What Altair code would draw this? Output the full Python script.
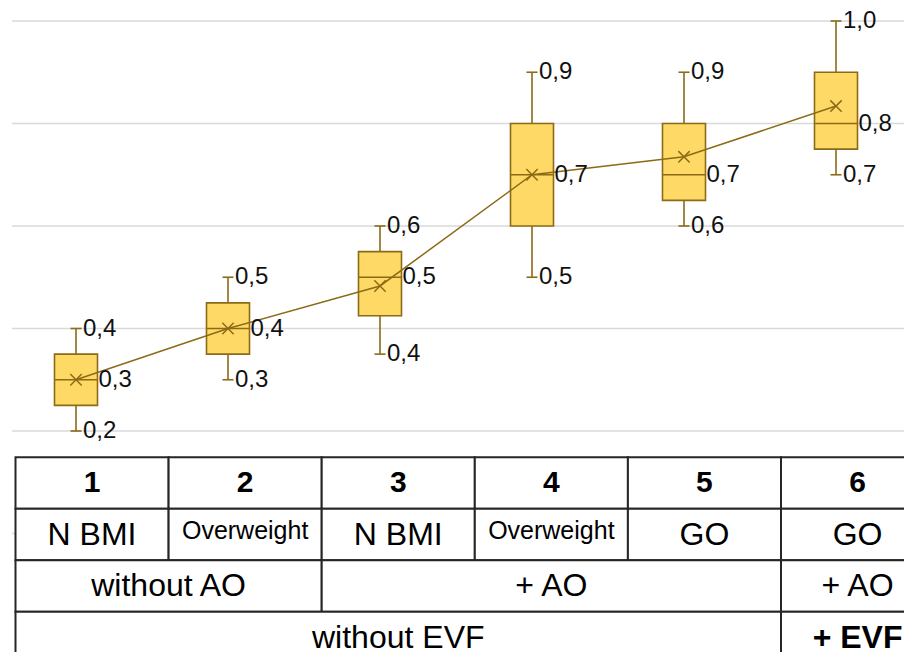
import altair as alt
import pandas as pd
from decimal import Decimal, ROUND_HALF_UP

# ---------------- data ----------------
groups = [1, 2, 3, 4, 5, 6]
v_min = [0.20, 0.30, 0.35, 0.50, 0.60, 0.70]
v_q1 = [0.25, 0.35, 0.425, 0.60, 0.65, 0.75]
v_median = [0.30, 0.40, 0.50, 0.70, 0.70, 0.80]
v_q3 = [0.35, 0.45, 0.55, 0.80, 0.80, 0.90]
v_max = [0.40, 0.50, 0.60, 0.90, 0.90, 1.00]
v_mean = [0.30, 0.40, 0.483, 0.70, 0.735, 0.834]
grid_values = [0.0, 0.2, 0.4, 0.6, 0.8, 1.0]

row_numbers = ["1", "2", "3", "4", "5", "6"]
row_groups = ["N BMI", "Overweight", "N BMI", "Overweight", "GO", "GO"]
row_ao = ["without AO", "+ AO", "+ AO"]
row_ao_span = [2, 3, 1]
row_evf = ["without EVF", "+ EVF"]
row_evf_span = [5, 1]


def fmt(v):
    d = Decimal(str(v)).quantize(Decimal("0.1"), rounding=ROUND_HALF_UP)
    return str(d).replace(".", ",")


box_df = pd.DataFrame({
    "g": groups, "vmin": v_min, "q1": v_q1, "med": v_median,
    "q3": v_q3, "vmax": v_max, "mean": v_mean,
})
box_df["lmin"] = [fmt(v) for v in v_min]
box_df["lmed"] = [fmt(v) for v in v_median]
box_df["lmax"] = [fmt(v) for v in v_max]

grid_df = pd.DataFrame({"v": grid_values})

cells = []
for r, (labels, spans) in enumerate([
    (row_numbers, [1] * 6),
    (row_groups, [1] * 6),
    (row_ao, row_ao_span),
    (row_evf, row_evf_span),
]):
    c = 0
    for lab, s in zip(labels, spans):
        cells.append({"row": r, "c0": c, "c1": c + s, "text": lab})
        c += s
table_df = pd.DataFrame(cells)
table_df["cx"] = (table_df["c0"] + table_df["c1"]) / 2
table_df["r1"] = table_df["row"] + 1
table_df["cy"] = table_df["row"] + 0.5

# ---------------- geometry / scales ----------------
W, H = 896, 644
FONT = "Liberation Sans, Arial, Helvetica, sans-serif"
STROKE = "#8C6B17"
FILL = "#FFD966"

# box-plot scales
band = 152.0
x_first = 68.0  # pixel centre of group 1 within the view
xb_dom = [1 - x_first / band, 1 - x_first / band + W / band]
ppu = 512.5      # pixels per unit
y02 = 423.0      # pixel of value 0.2
y_top = 0.2 + y02 / ppu
yb_dom = [y_top - H / ppu, y_top]

xs = alt.Scale(domain=xb_dom, nice=False, zero=False)
ys = alt.Scale(domain=yb_dom, nice=False, zero=False)

# table scales
col_w = 153.1
col_x0 = 7.5
xt_dom = [-col_x0 / col_w, -col_x0 / col_w + W / col_w]
row_h = 51.5
row_y0 = 449.3
yt_dom = [-row_y0 / row_h, -row_y0 / row_h + H / row_h]
xts = alt.Scale(domain=xt_dom, nice=False, zero=False)
yts = alt.Scale(domain=yt_dom, nice=False, zero=False, reverse=True)

# ---------------- layers ----------------
grid = alt.Chart(grid_df).mark_rule(color="#D9D9D9", strokeWidth=1.3).encode(
    x=alt.value(4), x2=alt.value(W),
    y=alt.Y("v:Q", scale=ys, axis=None),
)

base = alt.Chart(box_df)
X = alt.X("g:Q", scale=xs, axis=None)

whisker = base.mark_rule(color=STROKE, strokeWidth=1.6).encode(
    x=X, y=alt.Y("vmin:Q", scale=ys, axis=None), y2="vmax:Q")
cap_max = base.mark_rule(color=STROKE, strokeWidth=1.6, xOffset=-5.5, x2Offset=5.5).encode(
    x=X, x2="g:Q", y=alt.Y("vmax:Q", scale=ys, axis=None))
cap_min = base.mark_rule(color=STROKE, strokeWidth=1.6, xOffset=-5.5, x2Offset=5.5).encode(
    x=X, x2="g:Q", y=alt.Y("vmin:Q", scale=ys, axis=None))
box = base.mark_rect(fill=FILL, stroke=STROKE, strokeWidth=1.6,
                     xOffset=-21.5, x2Offset=21.5).encode(
    x=X, x2="g:Q", y=alt.Y("q1:Q", scale=ys, axis=None), y2="q3:Q")
median = base.mark_rule(color=STROKE, strokeWidth=1.6, xOffset=-21.5, x2Offset=21.5).encode(
    x=X, x2="g:Q", y=alt.Y("med:Q", scale=ys, axis=None))
mean_line = base.mark_line(color=STROKE, strokeWidth=1.5).encode(
    x=X, y=alt.Y("mean:Q", scale=ys, axis=None))
mean_pts = base.mark_point(shape="M-1,-1L1,1M-1,1L1,-1", size=130, filled=False,
                           stroke=STROKE, strokeWidth=1.5, opacity=1).encode(
    x=X, y=alt.Y("mean:Q", scale=ys, axis=None))

lab_kw = dict(align="left", baseline="middle", font=FONT, fontSize=24, color="#111111")
lab_max = base.mark_text(dx=7, **lab_kw).encode(
    x=X, y=alt.Y("vmax:Q", scale=ys, axis=None), text="lmax:N")
lab_min = base.mark_text(dx=7, **lab_kw).encode(
    x=X, y=alt.Y("vmin:Q", scale=ys, axis=None), text="lmin:N")
lab_med = base.mark_text(dx=22.5, **lab_kw).encode(
    x=X, y=alt.Y("med:Q", scale=ys, axis=None), text="lmed:N")

# table
tbase = alt.Chart(table_df)
cellrect = tbase.mark_rect(fill="white", stroke="#262626", strokeWidth=2).encode(
    x=alt.X("c0:Q", scale=xts, axis=None), x2="c1:Q",
    y=alt.Y("row:Q", scale=yts, axis=None), y2="r1:Q",
)
TX = alt.X("cx:Q", scale=xts, axis=None)
TY = alt.Y("cy:Q", scale=yts, axis=None)
txt_kw = dict(align="center", baseline="middle", font=FONT, color="#000000")

t_numbers = tbase.transform_filter(alt.datum.row == 0).mark_text(
    fontSize=30, fontWeight="bold", **txt_kw).encode(x=TX, y=TY, text="text:N")
t_normal = tbase.transform_filter(
    (alt.datum.row > 0) & (alt.datum.text != "Overweight") & (alt.datum.text != "+ EVF")
).mark_text(fontSize=32, **txt_kw).encode(x=TX, y=TY, text="text:N")
t_small = tbase.transform_filter(alt.datum.text == "Overweight").mark_text(
    fontSize=25, dy=-4, **txt_kw).encode(x=TX, y=TY, text="text:N")
t_bold = tbase.transform_filter(alt.datum.text == "+ EVF").mark_text(
    fontSize=32, fontWeight="bold", **txt_kw).encode(x=TX, y=TY, text="text:N")

chart = alt.layer(
    grid, whisker, cap_max, cap_min, box, median, mean_line, mean_pts,
    lab_max, lab_min, lab_med,
    cellrect, t_numbers, t_normal, t_small, t_bold,
).resolve_scale(x="independent", y="independent").properties(
    width=W, height=H,
    autosize=alt.AutoSizeParams(type="none"),
    padding=0,
    background="white",
).configure_view(stroke=None)

chart.save("out.html", embed_options={"renderer": "svg", "actions": False})
